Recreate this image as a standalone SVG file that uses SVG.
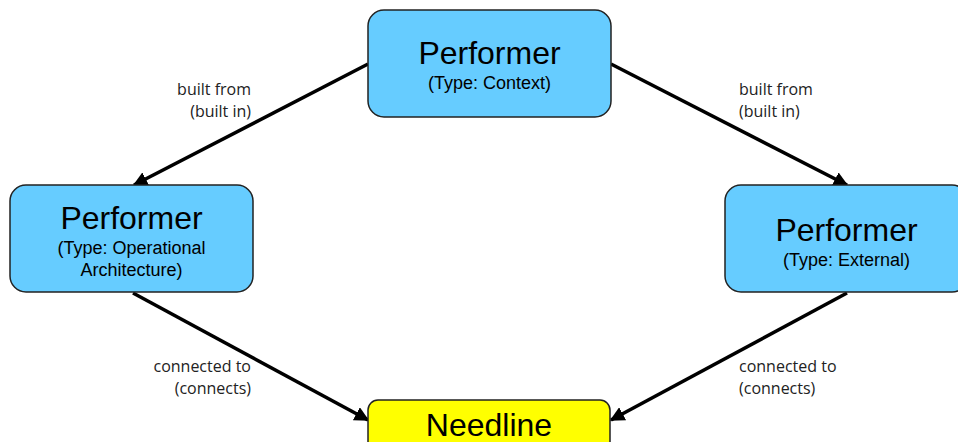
<svg xmlns="http://www.w3.org/2000/svg" width="958" height="442" viewBox="0 0 958 442">
<style>
.node{fill:#66ccff;stroke:#222;stroke-width:1.5}
.need{fill:#ffff00;stroke:#222;stroke-width:1.5}
.t{font-family:"Liberation Sans",Arial,sans-serif;font-size:32px;fill:#000;text-anchor:middle}
.s{font-family:"Liberation Sans",Arial,sans-serif;font-size:18px;fill:#000;text-anchor:middle}
.l{font-family:"Open Sans","DejaVu Sans",sans-serif;font-size:16px;fill:#222}
.e{stroke:#000;stroke-width:3.5;fill:none;marker-end:url(#a)}
</style>
<defs>
<marker id="a" viewBox="0 0 10 10" refX="9" refY="5" markerWidth="4.2" markerHeight="4.2" orient="auto" markerUnits="strokeWidth">
<path d="M0,0 L10,5 L0,10 z" fill="#000"/>
</marker>
</defs>
<rect width="958" height="442" fill="#fff"/>
<g id="connectors">
<line class="e" x1="368" y1="64" x2="134" y2="185"/>
<line class="e" x1="611" y1="64" x2="847" y2="185"/>
<line class="e" x1="133" y1="293" x2="368" y2="420"/>
<line class="e" x1="847" y1="293" x2="611" y2="420"/>
<text class="l" x="251" y="95" text-anchor="end">built from</text>
<text class="l" x="251" y="117" text-anchor="end">(built in)</text>
<text class="l" x="739" y="95">built from</text>
<text class="l" x="739" y="117">(built in)</text>
<text class="l" x="251" y="372" text-anchor="end">connected to</text>
<text class="l" x="251" y="394" text-anchor="end">(connects)</text>
<text class="l" x="739" y="372">connected to</text>
<text class="l" x="739" y="394">(connects)</text>
</g>
<g id="n-context">
<rect class="node" x="368" y="10" width="243" height="107" rx="16"/>
<text class="t" x="489.5" y="64">Performer</text>
<text class="s" x="489.5" y="89">(Type: Context)</text>
</g>
<g id="n-operational">
<rect class="node" x="10" y="185" width="243" height="107" rx="16"/>
<text class="t" x="131.5" y="229">Performer</text>
<text class="s" x="131.5" y="254">(Type: Operational</text>
<text class="s" x="131.5" y="276">Architecture)</text>
</g>
<g id="n-external">
<rect class="node" x="725" y="185" width="243" height="107" rx="16"/>
<text class="t" x="846.5" y="241">Performer</text>
<text class="s" x="846.5" y="266">(Type: External)</text>
</g>
<g id="n-needline">
<rect class="need" x="368" y="400" width="242" height="60" rx="10"/>
<text class="t" x="489" y="436">Needline</text>
</g>
</svg>
